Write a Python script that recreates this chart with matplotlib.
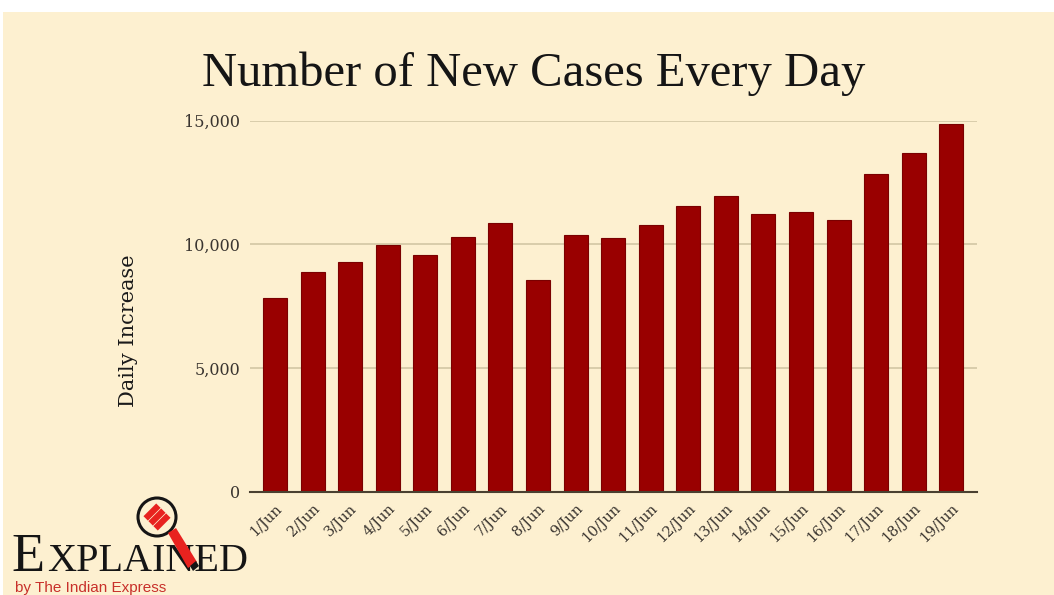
import matplotlib
matplotlib.use("Agg")
import matplotlib.pyplot as plt
from matplotlib.patches import Circle, Polygon, Rectangle
import numpy as np

days = ["1/Jun", "2/Jun", "3/Jun", "4/Jun", "5/Jun", "6/Jun", "7/Jun", "8/Jun",
        "9/Jun", "10/Jun", "11/Jun", "12/Jun", "13/Jun", "14/Jun", "15/Jun",
        "16/Jun", "17/Jun", "18/Jun", "19/Jun"]
new_cases = [7820, 8870, 9300, 9990, 9560, 10300, 10850, 8560, 10370, 10240,
             10800, 11550, 11970, 11230, 11300, 10990, 12850, 13680, 14870]
yticks = [0, 5000, 10000, 15000]
ytick_labels = ["0", "5,000", "10,000", "15,000"]

W, H = 1054, 595
BG = "#fdf0d0"
BAR = "#990000"

fig = plt.figure(figsize=(W / 100, H / 100), dpi=100)
fig.patch.set_facecolor("white")

# cream panel (white strip at top and left as in reference)
bgax = fig.add_axes([0, 0, 1, 1], zorder=-5)
bgax.set_xlim(0, W); bgax.set_ylim(H, 0); bgax.axis("off")
bgax.add_patch(Rectangle((3, 12), W, H, facecolor=BG, edgecolor="none"))

ax = fig.add_axes([250 / W, 1 - 491.7 / H, (977 - 250) / W, (491.7 - 120.7) / H])
ax.set_facecolor("none")
x = np.arange(len(days))
ax.bar(x, new_cases, width=0.64, color=BAR, edgecolor="#7a0000", linewidth=0.8, zorder=3)
ax.set_xlim(-0.665, 18.684)
ax.set_ylim(0, 15000)
ax.set_yticks(yticks)
ax.set_yticklabels(ytick_labels, family="DejaVu Serif", fontsize=11.5, color="#3a3530")
ax.grid(axis="y", color="#d2c6a4", linewidth=1.2, zorder=0)
ax.tick_params(axis="y", length=0, pad=7)
ax.tick_params(axis="x", length=0, pad=7)
ax.set_xticks(x)
ax.set_xticklabels(days, family="DejaVu Serif", fontsize=10.5, color="#3a3530",
                   rotation=45, ha="right", va="top", rotation_mode="anchor")
for s in ["top", "right", "left"]:
    ax.spines[s].set_visible(False)
ax.spines["bottom"].set_color("#4a4030")
ax.spines["bottom"].set_linewidth(1.5)
ax.spines["bottom"].set_zorder(4)

# overlay in pixel coordinates for titles and logo
ov = fig.add_axes([0, 0, 1, 1], zorder=10)
ov.set_xlim(0, W); ov.set_ylim(H, 0); ov.axis("off")
ov.patch.set_alpha(0)

ov.text(534, 86, "Number of New Cases Every Day", family="Liberation Serif",
        fontsize=35, color="#151515", ha="center", va="baseline")
ov.text(129, 331, "Daily Increase", family="DejaVu Serif", fontsize=15,
        color="#1a1a1a", rotation=90, ha="center", va="center")

# logo: EXPLAINED by The Indian Express
ov.text(11, 571, "E", family="Liberation Serif", fontsize=39, color="#151515",
        ha="left", va="baseline")
ov.text(47, 571, "XPLAINED", family="Liberation Serif", fontsize=29, color="#151515",
        ha="left", va="baseline")
ov.text(15, 592, "by The Indian Express", family=["Liberation Sans Narrow", "Liberation Sans"],
        fontsize=11, color="#c8302a", ha="left", va="baseline")
# magnifier
cx, cy, r = 157, 517, 19
ov.add_patch(Circle((cx, cy), r, facecolor=BG, edgecolor="#151515", linewidth=2.2, zorder=20))
ang = np.deg2rad(-45)
for off in (-7, 0, 7):
    px, py = cx + off * np.cos(np.deg2rad(45)), cy + off * np.sin(np.deg2rad(45))
    dx, dy = 9 * np.cos(ang), 9 * np.sin(ang)
    ov.plot([px - dx, px + dx], [py - dy, py + dy], color="#e8221f", lw=4.5,
            solid_capstyle="butt", zorder=21)
ov.add_patch(Polygon([[168, 533], [176, 528], [197, 562], [188, 568]],
                     closed=True, facecolor="#e8221f", edgecolor="none", zorder=22))
ov.add_patch(Polygon([[190, 566], [196, 561], [199, 566], [193, 571]],
                     closed=True, facecolor="#151515", edgecolor="none", zorder=22))

fig.savefig("out.png", dpi=100, facecolor=fig.get_facecolor())
